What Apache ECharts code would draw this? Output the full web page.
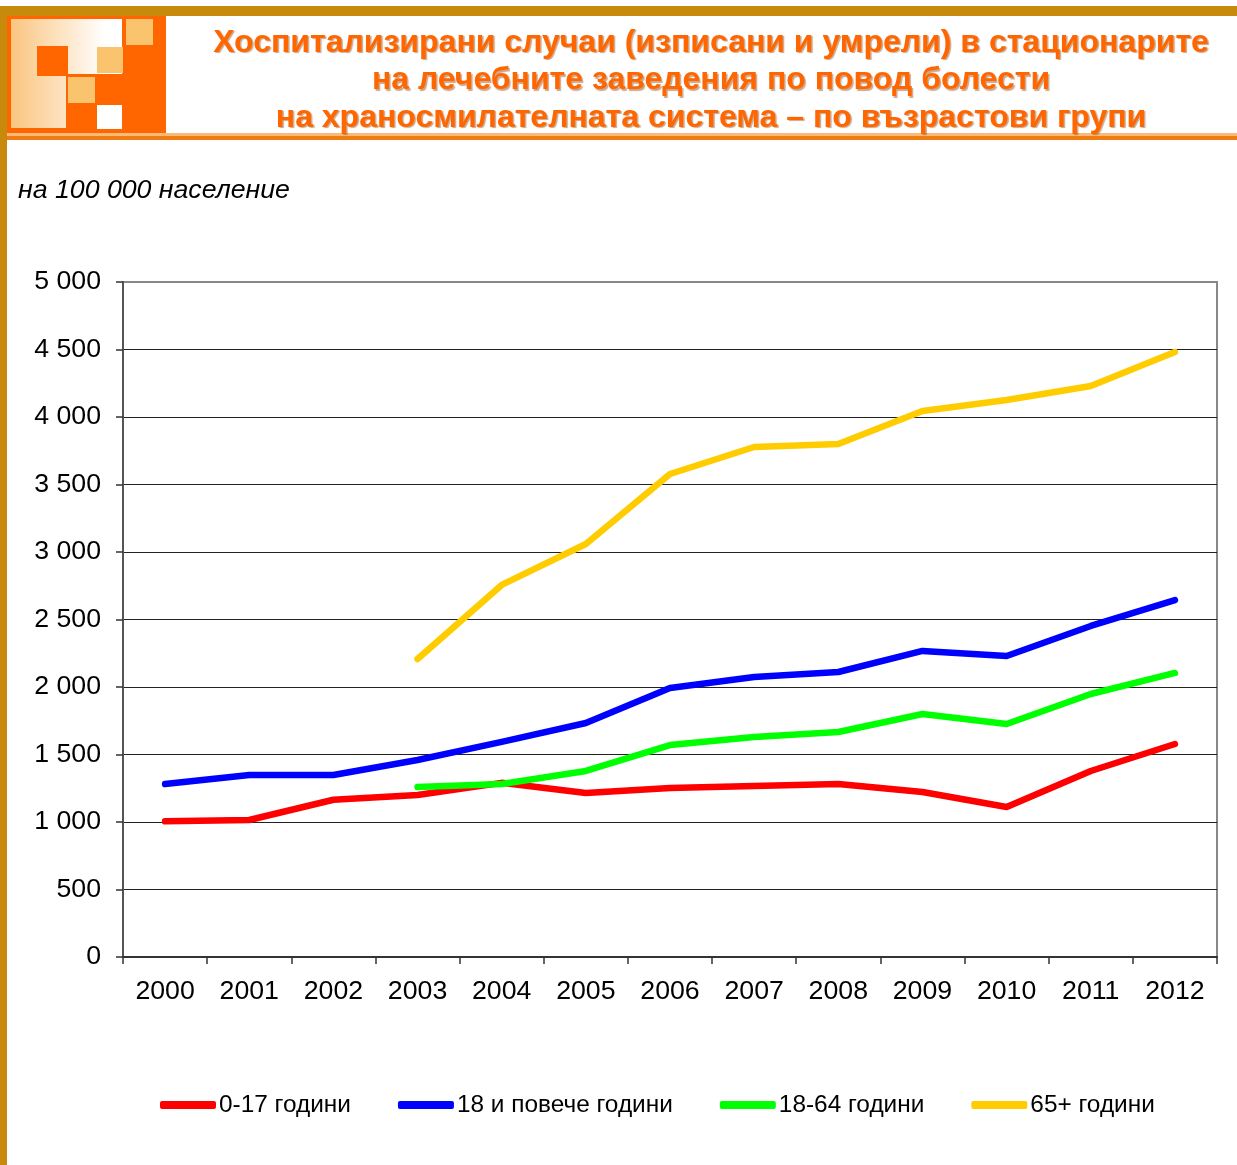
<!DOCTYPE html>
<html>
<head>
<meta charset="utf-8">
<title>Хоспитализирани случаи</title>
<script src="https://cdn.jsdelivr.net/npm/echarts@6/dist/echarts.min.js"></script>
<style>
  html, body { margin: 0; padding: 0; background: #fff; }
  #chart { width: 1237px; height: 1165px; }
</style>
</head>
<body>
<div id="chart"></div>
<script>
// years on the x axis
var years = ['2000', '2001', '2002', '2003', '2004', '2005', '2006',
             '2007', '2008', '2009', '2010', '2011', '2012'];

// per 100 000 population
var age0to17 = [1005, 1015, 1165, 1200, 1290, 1215, 1252, 1267, 1281, 1222, 1111, 1378, 1578];
var age18plus = [1281, 1348, 1348, 1459, 1593, 1733, 1993, 2074, 2111, 2267, 2230, 2452, 2644];
var age18to64 = [null, null, null, 1259, 1281, 1378, 1570, 1630, 1667, 1800, 1726, 1948, 2104];
var age65plus = [null, null, null, 2207, 2756, 3059, 3578, 3778, 3800, 4044, 4126, 4230, 4481];

var seriesNames = ['0-17 години', '18 и повече години', '18-64 години', '65+ години'];
var seriesColors = ['#ff0000', '#0000ff', '#00ff00', '#ffcc00'];

var titleLines = [
    'Хоспитализирани случаи (изписани и умрели) в стационарите',
    'на лечебните заведения по повод болести',
    'на храносмилателната система \u2013 по възрастови групи'
];

var font = '"Liberation Sans", Arial, sans-serif';

var chart = echarts.init(document.getElementById('chart'));

// header decoration: gold frame, logo and orange rules
var header = [
    { type: 'rect', shape: { x: 0, y: 6, width: 7, height: 1159 }, style: { fill: '#c88a0c' } },
    { type: 'rect', shape: { x: 0, y: 6, width: 1237, height: 10 }, style: { fill: '#c88a0c' } },
    { type: 'rect', shape: { x: 7, y: 133, width: 1230, height: 3 }, style: { fill: '#f9b978' } },
    { type: 'rect', shape: { x: 7, y: 136, width: 1230, height: 4 }, style: { fill: '#ef7c12' } },
    // logo
    { type: 'rect', shape: { x: 7, y: 16, width: 159, height: 117 }, style: { fill: '#ff6600' } },
    {
        type: 'rect', shape: { x: 11, y: 19, width: 55, height: 109 },
        style: { fill: new echarts.graphic.LinearGradient(0, 0, 1, 0, [
            { offset: 0, color: '#fac580' }, { offset: 1, color: '#fde4c4' }]) }
    },
    {
        type: 'rect', shape: { x: 11, y: 19, width: 111, height: 55 },
        style: { fill: new echarts.graphic.LinearGradient(0, 0, 1, 0, [
            { offset: 0, color: '#fac580' }, { offset: 0.85, color: '#ffffff' }, { offset: 1, color: '#ffffff' }]) }
    },
    { type: 'rect', shape: { x: 37, y: 46, width: 31, height: 30 }, style: { fill: '#ff6600' } },
    { type: 'rect', shape: { x: 126, y: 19, width: 27, height: 26 }, style: { fill: '#fac46f' } },
    { type: 'rect', shape: { x: 97, y: 47, width: 26, height: 26 }, style: { fill: '#fac46f' } },
    { type: 'rect', shape: { x: 68, y: 77, width: 27, height: 26 }, style: { fill: '#fac46f' } },
    { type: 'rect', shape: { x: 97, y: 105, width: 25, height: 24 }, style: { fill: '#ffffff' } }
];

titleLines.forEach(function (line, i) {
    header.push({
        type: 'text',
        x: 711,
        y: 43 + i * 37.5,
        style: {
            text: line,
            align: 'center',
            verticalAlign: 'middle',
            font: 'bold 32px ' + font,
            fill: '#ff6600',
            textShadowColor: 'rgba(140,60,0,0.45)',
            textShadowOffsetX: 1.5,
            textShadowOffsetY: 1.5,
            textShadowBlur: 1
        }
    });
});

function makeSeries(name, data, color) {
    return {
        name: name,
        type: 'line',
        data: data,
        symbol: 'none',
        connectNulls: false,
        lineStyle: { color: color, width: 6.5, cap: 'round', join: 'round' },
        itemStyle: { color: color }
    };
}

var gridColors = [];
for (var i = 0; i < 10; i++) gridColors.push('#222222');
gridColors.push('#888888');

chart.setOption({
    animation: false,
    backgroundColor: '#ffffff',
    textStyle: { fontFamily: font },
    title: {
        text: 'на 100 000 население',
        left: 13,
        top: 172,
        textStyle: { fontFamily: font, fontStyle: 'italic', fontWeight: 'normal', fontSize: 26.7, color: '#000' }
    },
    graphic: header,
    legend: {
        bottom: 43,
        left: 155,
        itemGap: 47,
        itemWidth: 56,
        itemHeight: 8,
        icon: 'roundRect',
        data: seriesNames,
        textStyle: { fontFamily: font, fontSize: 24.4, color: '#000', padding: [0, 0, 0, -2] }
    },
    grid: {
        left: 123,
        right: 20,
        top: 282,
        bottom: 208,
        show: true,
        borderColor: '#888888',
        borderWidth: 2
    },
    xAxis: {
        type: 'category',
        data: years,
        boundaryGap: true,
        axisLine: { lineStyle: { color: '#333', width: 2 } },
        axisTick: { show: true, length: 7, lineStyle: { color: '#333', width: 1.5 } },
        axisLabel: { fontSize: 26.7, color: '#000', margin: 21, fontFamily: font }
    },
    yAxis: {
        type: 'value',
        min: 0,
        max: 5000,
        interval: 500,
        axisLine: { show: true, lineStyle: { color: '#555', width: 2 } },
        axisTick: { show: true, length: 7, lineStyle: { color: '#333', width: 1.5 } },
        splitLine: { lineStyle: { color: gridColors, width: 1.2 } },
        axisLabel: {
            fontSize: 26.7,
            color: '#000',
            margin: 22,
            fontFamily: font,
            formatter: function (v) {
                return String(v).replace(/\B(?=(\d{3})+(?!\d))/g, ' ');
            }
        }
    },
    series: [
        makeSeries(seriesNames[0], age0to17, seriesColors[0]),
        makeSeries(seriesNames[1], age18plus, seriesColors[1]),
        makeSeries(seriesNames[2], age18to64, seriesColors[2]),
        makeSeries(seriesNames[3], age65plus, seriesColors[3])
    ]
});
</script>
</body>
</html>
